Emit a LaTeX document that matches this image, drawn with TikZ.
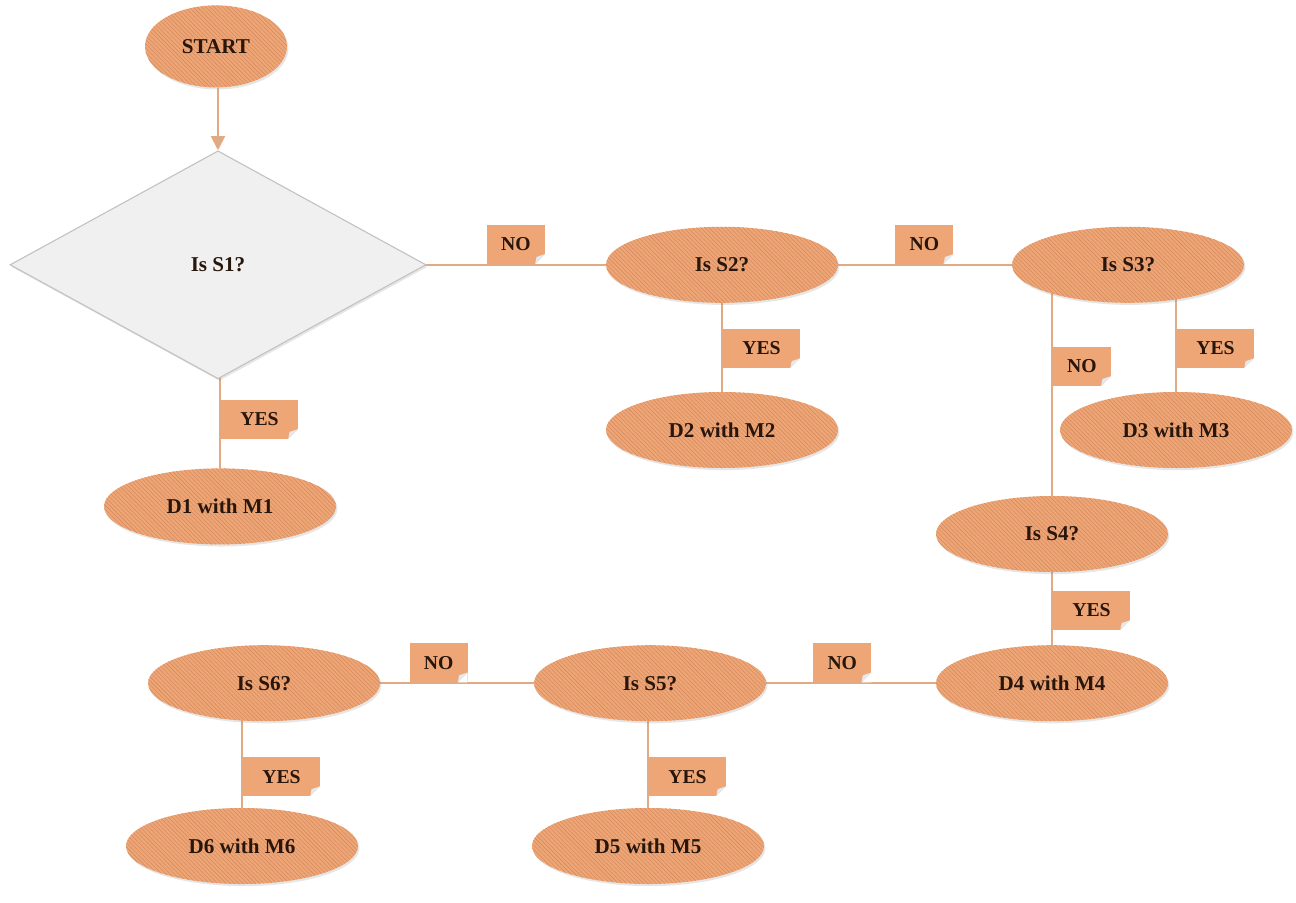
\documentclass[tikz,border=0pt]{standalone}
\usepackage{fontspec}
\setmainfont{Liberation Serif}
\usetikzlibrary{arrows.meta, shapes.geometric, patterns, shadows, backgrounds}

\definecolor{peach}{RGB}{238,166,118}
\definecolor{stripe}{RGB}{214,140,96}
\definecolor{wire}{RGB}{226,170,130}
\definecolor{inkbrown}{RGB}{40,22,12}
\definecolor{diafill}{RGB}{240,240,240}
\definecolor{diaedge}{RGB}{198,194,190}
\definecolor{curl}{RGB}{228,232,240}

\begin{document}
\begin{tikzpicture}[
  >={Triangle[length=10pt, width=10pt]},
  wire/.style={draw=wire, line width=1.2pt},
  stepnode/.style={ellipse, draw=none,
    drop shadow={opacity=0.2, shadow xshift=1pt, shadow yshift=-1.5pt},
    preaction={fill=peach}, pattern=north west lines, pattern color=stripe,
    minimum width=5.8cm, minimum height=1.9cm, inner sep=0pt,
    font=\fontsize{15}{17}\selectfont\bfseries, text=inkbrown},
  startnode/.style={stepnode, minimum width=3.55cm, minimum height=2.05cm},
  decision/.style={diamond, fill=diafill, draw=diaedge, line width=0.8pt,
    drop shadow={opacity=0.2, shadow xshift=1pt, shadow yshift=-1.5pt},
    minimum width=10.4cm, minimum height=5.7cm, inner sep=0pt,
    font=\fontsize{15}{17}\selectfont\bfseries, text=inkbrown},
  flag/.style={rectangle, fill=peach, draw=none, minimum width=#1,
    minimum height=0.98cm, inner sep=0pt,
    font=\fontsize{14}{16}\selectfont\bfseries, text=inkbrown,
    path picture={
      \fill[white] ([xshift=-7pt]path picture bounding box.south east)
        -- (path picture bounding box.south east)
        -- ([yshift=7pt]path picture bounding box.south east) -- cycle;
      \fill[curl] ([xshift=-7pt]path picture bounding box.south east)
        -- ([yshift=7pt]path picture bounding box.south east)
        -- ([xshift=-6pt,yshift=5pt]path picture bounding box.south east) -- cycle;
    }},
  flag/.default=1.45cm
]
\useasboundingbox (0,0) rectangle (32.4,-22.55);

% shapes
\node[startnode] (start) at (5.4,-1.16) {START};
\node[decision] (s1) at (5.45,-6.62) {Is S1?};
\node[stepnode] (s2) at (18.05,-6.62) {Is S2?};
\node[stepnode] (s3) at (28.2,-6.62) {Is S3?};
\node[stepnode] (d1) at (5.5,-12.66) {D1 with M1};
\node[stepnode] (d2) at (18.05,-10.75) {D2 with M2};
\node[stepnode] (d3) at (29.4,-10.75) {D3 with M3};
\node[stepnode] (s4) at (26.3,-13.35) {Is S4?};
\node[stepnode] (d4) at (26.3,-17.08) {D4 with M4};
\node[stepnode] (s5) at (16.25,-17.08) {Is S5?};
\node[stepnode] (s6) at (6.6,-17.08) {Is S6?};
\node[stepnode] (d5) at (16.2,-21.15) {D5 with M5};
\node[stepnode] (d6) at (6.05,-21.15) {D6 with M6};

\draw[wire, ->] (start.south -| s1.north) -- (s1.north);

% connectors with their labels
\begin{scope}[on background layer]
\draw[wire] (s1.center) -- node[flag, pos=0.532, anchor=south west] (no1) {NO} (s2.center);
\draw[wire] (s2.center) -- node[flag, pos=0.425, anchor=south west] (no2) {NO} (s3.center);
\draw[wire] (s1.center -| d1.north) -- node[flag=1.93cm, pos=0.76, anchor=west] (yes1) {YES} (d1.north);
\draw[wire] (s2.center -| d2.north) -- node[flag=1.93cm, pos=0.66, anchor=west] (yes2) {YES} (d2.north);
\draw[wire] (s3.center -| d3.north) -- node[flag=1.93cm, pos=0.66, anchor=west] (yes3) {YES} (d3.north);
\draw[wire] (s3.center -| s4.north) -- node[flag, pos=0.44, anchor=west] (no3) {NO} (s4.north);
\draw[wire] (s4.center -| d4.north) -- node[flag=1.93cm, pos=0.69, anchor=west] (yes4) {YES} (d4.north);
\draw[wire] (s5.center) -- node[flag, pos=0.404, anchor=south west] (no4) {NO} (d4.center);
\draw[wire] (s6.center) -- node[flag, pos=0.375, anchor=south west] (no5) {NO} (s5.center);
\draw[wire] (s5.center -| d5.north) -- node[flag=1.93cm, pos=0.75, anchor=west] (yes5) {YES} (d5.north);
\draw[wire] (s6.center -| d6.north) -- node[flag=1.93cm, pos=0.75, anchor=west] (yes6) {YES} (d6.north);
\end{scope}

\end{tikzpicture}
\end{document}
